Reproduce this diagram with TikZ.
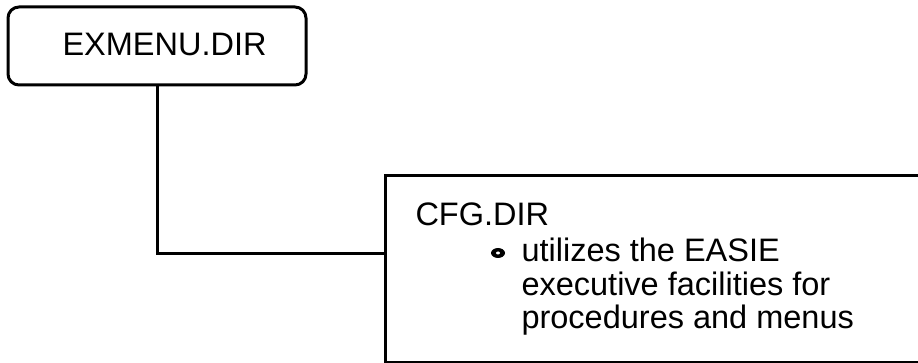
\documentclass[tikz,border=0pt]{standalone}
\usepackage{fontspec}
\setmainfont{Liberation Sans}
\usetikzlibrary{shapes.geometric}
\begin{document}
\begin{tikzpicture}[x=1pt,y=-1pt,
  line width=3pt,
  every node/.style={font=\fontsize{32.5}{35}\selectfont},
  dirbox/.style={draw, rectangle, rounded corners=11pt, inner sep=0pt},
  infobox/.style={draw, rectangle, inner sep=0pt},
  textline/.style={anchor=base west, inner sep=0pt},
  bulletmark/.style={fill, ellipse, minimum width=14pt, minimum height=10pt, inner sep=0pt,
    path picture={\fill[white] (path picture bounding box.center) ellipse (2pt and 1.5pt);}},
]
\useasboundingbox (0,0) rectangle (918,363);
\clip (0,0) rectangle (918,363);

% parent directory
\node[dirbox, minimum width=298pt, minimum height=78pt] (exmenu) at (157,46) {};
\node[textline] (exname) at (61,56) {EXMENU.DIR};

% child directory box (runs off the right edge)
\node[infobox, minimum width=560pt, minimum height=187pt, anchor=north west] (cfg) at (384,174) {};

\node[textline] (title) at (414,226) {CFG.DIR};
\node[bulletmark] (dot) at (498,253) {};
\node[textline] (l1) at (520,262) {utilizes the EASIE};
\node[textline] (l2) at (520,295) {executive facilities for};
\node[textline] (l3) at (520,328) {procedures and menus};

% connector
\coordinate (join) at (384,254);
\draw (exmenu.south) |- (join);
\end{tikzpicture}
\end{document}
